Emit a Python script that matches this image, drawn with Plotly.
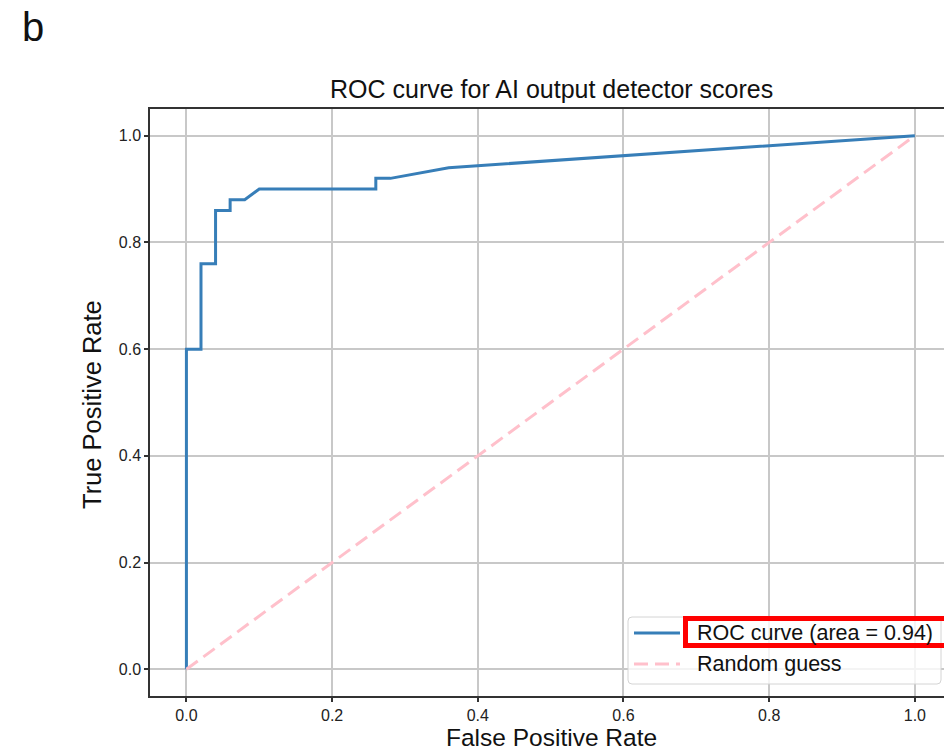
import numpy as np
import plotly.graph_objects as go

# ROC operating points of the detector (false positive rate, true positive rate)
fpr = [0.0, 0.0, 0.02, 0.02, 0.04, 0.04, 0.06, 0.06, 0.08, 0.10, 0.26, 0.26, 0.28, 0.36, 1.0]
tpr = [0.0, 0.60, 0.60, 0.76, 0.76, 0.86, 0.86, 0.88, 0.88, 0.90, 0.90, 0.92, 0.92, 0.94, 1.0]

# chance diagonal
guess_x = [0.0, 1.0]
guess_y = [0.0, 1.0]

tick_vals = [0.0, 0.2, 0.4, 0.6, 0.8, 1.0]
tick_text = ["0.0", "0.2", "0.4", "0.6", "0.8", "1.0"]

auc = float(np.trapezoid(tpr, fpr))
roc_label = f"ROC curve (area = {auc:.2f})"
guess_label = "Random guess"

BLUE = "#377eb8"
PINK = "#ffc0cb"
FONT = "Liberation Sans, Arial, sans-serif"

W, H = 944, 753
ML, MR, MT, MB = 150, 0, 109, 57
PW, PH = W - ML - MR, H - MT - MB


def px(x):
    return (x - ML) / PW


def py(y):
    return (H - MB - y) / PH


fig = go.Figure()
fig.add_trace(go.Scatter(x=fpr, y=tpr, mode="lines", name=roc_label,
                         line=dict(color=BLUE, width=3), showlegend=False))
fig.add_trace(go.Scatter(x=guess_x, y=guess_y, mode="lines", name=guess_label,
                         line=dict(color=PINK, width=3, dash="14px,7px"),
                         showlegend=False))

shapes = []
annotations = []

# legend frame with rounded corners
x0, x1, y0, y1 = px(628), px(941), py(684), py(617)
rx, ry = 4 / PW, 4 / PH
path = (f"M{x0 + rx},{y0} L{x1 - rx},{y0} Q{x1},{y0} {x1},{y0 + ry} "
        f"L{x1},{y1 - ry} Q{x1},{y1} {x1 - rx},{y1} L{x0 + rx},{y1} "
        f"Q{x0},{y1} {x0},{y1 - ry} L{x0},{y0 + ry} Q{x0},{y0} {x0 + rx},{y0} Z")
shapes.append(dict(type="path", path=path, xref="paper", yref="paper",
                   fillcolor="rgba(255,255,255,0.8)",
                   line=dict(color="#d4d4d4", width=1), layer="above"))
shapes.append(dict(type="line", xref="paper", yref="paper",
                   x0=px(634), x1=px(680), y0=py(633), y1=py(633),
                   line=dict(color=BLUE, width=3), layer="above"))
shapes.append(dict(type="line", xref="paper", yref="paper",
                   x0=px(634), x1=px(680), y0=py(664), y1=py(664),
                   line=dict(color=PINK, width=3, dash="14px,7px"), layer="above"))
annotations.append(dict(text=roc_label, xref="paper", yref="paper",
                        x=px(695), y=py(633), xanchor="left", yanchor="middle",
                        showarrow=False, font=dict(family=FONT, size=21.5, color="#111")))
annotations.append(dict(text=guess_label, xref="paper", yref="paper",
                        x=px(695), y=py(664), xanchor="left", yanchor="middle",
                        showarrow=False, font=dict(family=FONT, size=21.5, color="#111")))

# red highlight box around the AUC entry
shapes.append(dict(type="rect", xref="paper", yref="paper",
                   x0=px(685.5), x1=px(965), y0=py(645.5), y1=py(618.5),
                   line=dict(color="#ff0000", width=5), layer="above"))

# title, axis titles and panel letter
annotations.append(dict(text="ROC curve for AI output detector scores", xref="paper", yref="paper",
                        x=px(551), y=py(89), xanchor="center", yanchor="middle",
                        showarrow=False, font=dict(family=FONT, size=25, color="#111")))
annotations.append(dict(text="False Positive Rate", xref="paper", yref="paper",
                        x=px(551), y=py(753), xanchor="center", yanchor="bottom",
                        height=26, valign="bottom",
                        showarrow=False, font=dict(family=FONT, size=24.5, color="#111")))
annotations.append(dict(text="True Positive Rate", xref="paper", yref="paper",
                        x=px(92), y=py(405), xanchor="center", yanchor="middle",
                        textangle=-90, showarrow=False,
                        font=dict(family=FONT, size=25.5, color="#111")))
annotations.append(dict(text="b", xref="paper", yref="paper",
                        x=px(20), y=py(27), xanchor="left", yanchor="middle",
                        showarrow=False, font=dict(family=FONT, size=40, color="#111")))

axis_common = dict(
    tickvals=tick_vals, ticktext=tick_text,
    showgrid=True, gridcolor="#c8c8c8", gridwidth=2,
    zeroline=False, showline=True, linecolor="#333", linewidth=1.5,
    ticks="outside", ticklen=4, tickwidth=1.5, tickcolor="#333",
    tickfont=dict(family=FONT, size=16, color="#222"),
)

fig.update_layout(
    width=W, height=H,
    margin=dict(l=ML, r=MR, t=MT, b=MB, pad=0),
    paper_bgcolor="white", plot_bgcolor="white",
    xaxis=dict(range=[-0.05, 1.04], mirror=True, **axis_common),
    yaxis=dict(range=[-0.05, 1.05], mirror=False, **axis_common),
    shapes=shapes, annotations=annotations,
    showlegend=False,
)

fig.write_html("out.html", config={"displayModeBar": False})
